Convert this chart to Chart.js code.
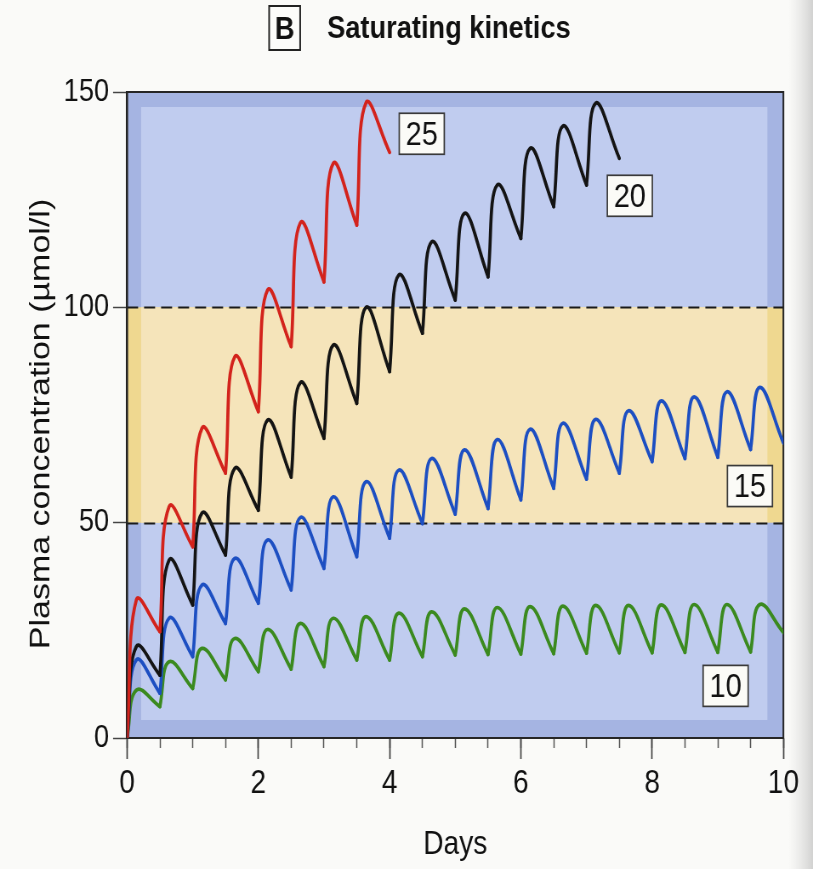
<!DOCTYPE html>
<html>
<head>
<meta charset="utf-8">
<title>Saturating kinetics</title>
<script src="https://cdn.jsdelivr.net/npm/chart.js@4.4.1/dist/chart.umd.min.js"></script>
<style>
  html, body { margin: 0; padding: 0; background: #fafaf8; }
  #wrap { width: 813px; height: 869px; position: relative; overflow: hidden; }
  /* the drawing is made on a wider canvas and shown narrower, giving the condensed look */
  #chart { display: block; width: 813px !important; height: 869px !important; }
</style>
</head>
<body>
<div id="wrap"><canvas id="chart"></canvas></div>
<script>
// Dosing schedule (days): a dose every 12 hours
const doseDays = [0, 0.5, 1, 1.5, 2, 2.5, 3, 3.5, 4, 4.5, 5, 5.5, 6, 6.5, 7, 7.5, 8, 8.5, 9, 9.5, 10];
const peakDelay = 0.14; // days from dose to peak concentration

// Plasma concentration (umol/l): peak of each dosing interval and the trough that ends it
const peaks25   = [32.0, 53.7, 71.9, 88.5, 104.0, 119.6, 133.4, 147.5];
const troughs25 = [24.7, 44.4, 61.5, 75.8, 90.9, 105.9, 119.1, 136.0];

const peaks20   = [21.2, 41.3, 52.2, 62.6, 73.8, 82.5, 91.2, 100.0, 107.5, 115.2, 121.8, 128.4, 136.9, 142.1, 147.4];
const troughs20 = [14.6, 30.9, 42.5, 52.9, 60.6, 69.6, 77.7, 85.1, 94.0, 101.7, 107.1, 116.0, 123.4, 128.4, 134.6];

const peaks15   = [18.1, 27.8, 35.5, 41.7, 46.0, 51.2, 56.0, 59.5, 62.2, 64.9, 66.9, 69.3, 71.7, 73.1, 74.0, 76.0, 78.3, 79.2, 80.4, 81.4];
const troughs15 = [10.4, 18.9, 26.6, 31.3, 34.4, 39.4, 42.1, 46.4, 49.8, 52.0, 53.3, 55.3, 58.0, 60.1, 61.5, 64.2, 64.9, 65.2, 67.0, 68.5];

const peaks10   = [11.1, 17.7, 20.8, 23.1, 25.2, 26.6, 27.8, 28.2, 29.0, 29.3, 30.0, 30.3, 30.5, 30.6, 30.8, 30.8, 30.9, 31.0, 31.0, 31.0];
const troughs10 = [7.3, 11.5, 13.5, 15.4, 16.0, 16.6, 18.1, 18.1, 18.9, 19.3, 19.4, 19.5, 19.6, 19.7, 19.8, 19.8, 19.9, 19.9, 20.0, 24.5];

const doseLabels = ['25', '20', '15', '10'];
const yTickValues = [0, 50, 100, 150];
const xTickValues = [0, 2, 4, 6, 8, 10];
const therapeuticRange = [50, 100];

// Where each dose tag sits, in data units (days, umol/l)
const tagAnchors = [
  { text: '25', x: 4.49, y: 140.3 },
  { text: '20', x: 7.66, y: 125.9 },
  { text: '15', x: 9.49, y: 58.5 },
  { text: '10', x: 9.12, y: 12.1 }
];

const FONT = '"Liberation Sans", Arial, Helvetica, sans-serif';
const SX = 0.85;                 // horizontal condensing of the whole figure
const W = Math.round(813 / SX);  // drawing width in canvas units
const H = 869;
const px = v => v / SX;          // screen x -> canvas x
const PLOT = { left: px(127), top: 92, right: px(783), bottom: 738 };

const canvas = document.getElementById('chart');
canvas.width = W;
canvas.height = H;
canvas.style.width = '813px';
canvas.style.height = '869px';

// Each dosing interval is its own short curve: dose -> peak -> next trough,
// so every new dose starts from a sharp corner at the trough.
function intervalSets(label, peaks, troughs, color) {
  const sets = [];
  let level = 0;
  for (let i = 0; i < peaks.length; i++) {
    const t0 = doseDays[i], t1 = doseDays[i + 1];
    sets.push({
      label,
      data: [
        { x: t0, y: level },
        { x: t0 + peakDelay, y: peaks[i] },
        { x: t1, y: troughs[i] }
      ],
      borderColor: color,
      borderWidth: 3.7,
      pointRadius: 0,
      fill: false,
      tension: 0.42,
      borderCapStyle: 'round',
      borderJoinStyle: 'round'
    });
    level = troughs[i];
  }
  return sets;
}

const backdrop = {
  id: 'backdrop',
  beforeDraw(chart) {
    const { ctx, chartArea: a, scales: { y } } = chart;
    ctx.save();
    ctx.fillStyle = '#fafaf8';
    ctx.fillRect(0, 0, W, H);
    // page edge shading on the far right
    const g = ctx.createLinearGradient(px(788), 0, W, 0);
    g.addColorStop(0, 'rgba(200,200,200,0)');
    g.addColorStop(1, 'rgba(170,170,170,0.5)');
    ctx.fillStyle = g;
    ctx.fillRect(px(788), 0, W - px(788), H);
    // blue field with a lighter centre
    const w = a.right - a.left, h = a.bottom - a.top;
    ctx.fillStyle = '#a5b4e2';
    ctx.fillRect(a.left, a.top, w, h);
    ctx.fillStyle = '#c0ccef';
    ctx.fillRect(a.left + px(14), a.top + 15, w - px(30), h - 33);
    // therapeutic range band
    const yHi = y.getPixelForValue(therapeuticRange[1]);
    const yLo = y.getPixelForValue(therapeuticRange[0]);
    ctx.fillStyle = '#efd890';
    ctx.fillRect(a.left, yHi, w, yLo - yHi);
    ctx.fillStyle = '#f5e4ba';
    ctx.fillRect(a.left + px(14), yHi, w - px(30), yLo - yHi);
    ctx.restore();
  },
  beforeDatasetsDraw(chart) {
    const { ctx, chartArea: a, scales: { y } } = chart;
    ctx.save();
    ctx.strokeStyle = '#1a1a1a';
    ctx.lineWidth = 2;
    ctx.setLineDash([px(11), px(6)]);
    therapeuticRange.forEach(v => {
      const py = Math.round(y.getPixelForValue(v)) + 0.5;
      ctx.beginPath();
      ctx.moveTo(a.left, py);
      ctx.lineTo(a.right, py);
      ctx.stroke();
    });
    ctx.setLineDash([]);
    ctx.strokeStyle = '#262626';
    ctx.lineWidth = 2;
    ctx.strokeRect(a.left, a.top, a.right - a.left, a.bottom - a.top);
    ctx.restore();
  },
  afterDraw(chart) {
    const { ctx, scales: { x, y } } = chart;
    ctx.save();
    // y axis title
    ctx.save();
    ctx.translate(px(41), 424);
    ctx.rotate(-Math.PI / 2);
    ctx.font = '34px ' + FONT;
    ctx.fillStyle = '#111';
    ctx.textAlign = 'center';
    ctx.textBaseline = 'middle';
    ctx.fillText('Plasma concentration (\u00b5mol/l)', 0, 0);
    ctx.restore();
    // dose tags
    ctx.font = '34px ' + FONT;
    ctx.textAlign = 'center';
    ctx.textBaseline = 'middle';
    tagAnchors.forEach(t => {
      const cx = x.getPixelForValue(t.x), cy = y.getPixelForValue(t.y);
      const bw = px(45), bh = 41;
      ctx.fillStyle = '#fbfbf7';
      ctx.fillRect(cx - bw / 2, cy - bh / 2, bw, bh);
      ctx.strokeStyle = '#3a3a3a';
      ctx.lineWidth = 1.7;
      ctx.strokeRect(cx - bw / 2, cy - bh / 2, bw, bh);
      ctx.fillStyle = '#111';
      ctx.fillText(t.text, cx, cy + 2);
    });
    // panel heading
    ctx.fillStyle = '#fcfcfa';
    ctx.fillRect(px(269), 6, px(31), 44);
    ctx.strokeStyle = '#222';
    ctx.lineWidth = 2;
    ctx.strokeRect(px(269), 6, px(31), 44);
    ctx.fillStyle = '#111';
    ctx.font = 'bold 32px ' + FONT;
    ctx.textAlign = 'center';
    ctx.textBaseline = 'alphabetic';
    ctx.fillText('B', px(284.5), 39);
    ctx.textAlign = 'left';
    ctx.font = 'bold 32px ' + FONT;
    ctx.fillText('Saturating kinetics', px(327), 38);
    ctx.restore();
  }
};

new Chart(canvas, {
  type: 'line',
  data: {
    datasets: [
      ...intervalSets(doseLabels[0], peaks25, troughs25, '#d3231c'),
      ...intervalSets(doseLabels[1], peaks20, troughs20, '#141414'),
      ...intervalSets(doseLabels[2], peaks15, troughs15, '#1d4fc2'),
      ...intervalSets(doseLabels[3], peaks10, troughs10, '#3b8a1f')
    ]
  },
  options: {
    responsive: false,
    devicePixelRatio: 1,
    animation: false,
    events: [],
    layout: { padding: { top: PLOT.top, right: W - PLOT.right, bottom: 0, left: 0 } },
    plugins: { legend: { display: false }, tooltip: { enabled: false }, title: { display: false } },
    scales: {
      y: {
        type: 'linear',
        min: 0, max: 150,
        afterFit: s => { s.width = PLOT.left; },
        afterBuildTicks: s => { s.ticks = yTickValues.map(v => ({ value: v })); },
        grid: { display: true, drawOnChartArea: false, drawTicks: true, tickLength: px(14), tickColor: '#444', tickWidth: 1.5 },
        border: { display: true, color: '#1e1e1e', width: 2.3 },
        ticks: { color: '#111', font: { family: FONT, size: 32 }, padding: px(4) },
        title: { display: false }
      },
      xMinor: {
        type: 'linear',
        position: 'bottom',
        weight: 0,
        min: 0, max: 10,
        afterFit: s => { s.height = 0; },
        ticks: { display: false, stepSize: 0.5 },
        grid: { display: true, drawOnChartArea: false, drawTicks: true, tickLength: 10, tickColor: '#555', tickWidth: 1.5 },
        border: { display: false }
      },
      x: {
        type: 'linear',
        position: 'bottom',
        weight: 1,
        min: 0, max: 10,
        afterFit: s => { s.height = H - PLOT.bottom; },
        afterBuildTicks: s => { s.ticks = xTickValues.map(v => ({ value: v })); },
        grid: { display: true, drawOnChartArea: false, drawTicks: true, tickLength: 21, tickColor: '#444', tickWidth: 1.7 },
        border: { display: true, color: '#1e1e1e', width: 2 },
        ticks: { color: '#111', font: { family: FONT, size: 33 }, padding: 5, maxRotation: 0 },
        title: { display: true, text: 'Days', color: '#111', font: { family: FONT, size: 33 }, padding: { top: 0, bottom: 4 } }
      }
    }
  },
  plugins: [backdrop]
});
</script>
</body>
</html>
